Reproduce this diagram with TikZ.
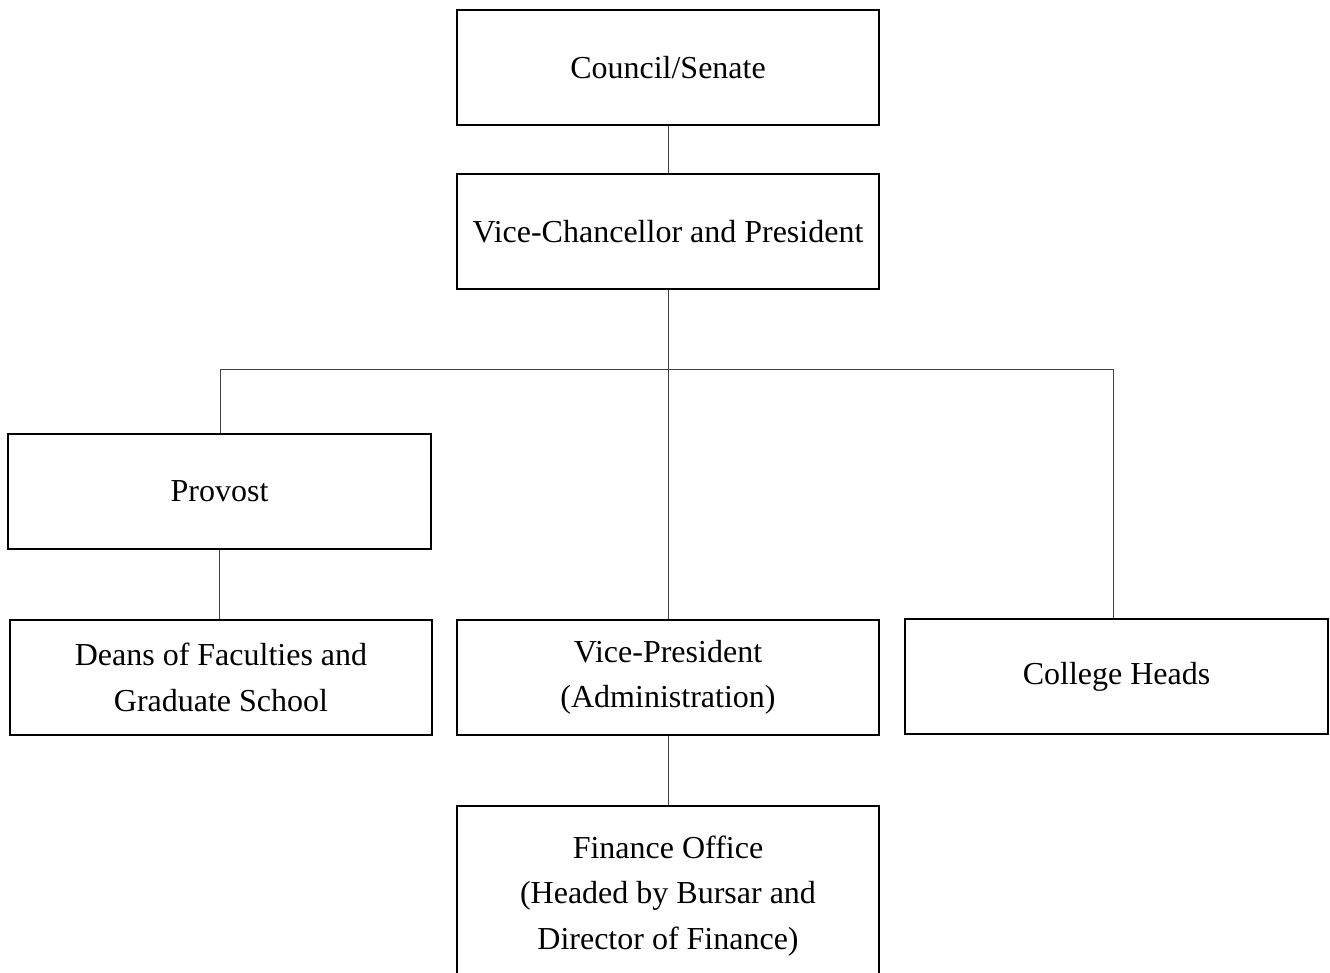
\documentclass[tikz,border=0pt]{standalone}
\usepackage{fontspec}
\setmainfont{Liberation Serif}
\tikzset{
  orgbox/.style={draw=black, line width=1.1pt, minimum width=316.5pt, minimum height=86.25pt,
    align=center, inner sep=0pt, font=\fontsize{24}{34}\selectfont},
  link/.style={draw=black!75, line width=0.75pt}
}
\begin{document}
\begin{tikzpicture}[x=0.75pt, y=-0.75pt]
  \useasboundingbox (0,0) rectangle (1330,973);
  \clip (0,0) rectangle (1330,973);
  % boxes
  \node[orgbox] (council) at (668,67.5) {Council/Senate};
  \node[orgbox] (vc) at (668,231.5) {Vice-Chancellor and President};
  \node[orgbox, minimum width=317.25pt] (provost) at (219.5,491.5) {Provost};
  \node[orgbox] (deans) at (221,677.5) {Deans of Faculties and\\ Graduate School};
  \node[orgbox] (vp) at (668,677.5) {Vice-President\\ (Administration)};
  \node[orgbox, minimum height=135pt] (finance) at (668,896) {Finance Office\\ (Headed by Bursar and\\ Director of Finance)};
  \node[orgbox, minimum width=317.25pt] (college) at (1116.5,676.5) {College Heads};
  % connectors
  \coordinate (busL) at (220,369);
  \coordinate (busR) at (1113,369);
  \draw[link] (council.south) -- (vc.north);
  \draw[link] (vc.south) -- (vp.north);
  \draw[link] (busL) -- (busR);
  \draw[link] (busL) -- (busL |- provost.north);
  \draw[link] (busR) -- (busR |- college.north);
  \draw[link] (provost.south) -- (provost.south |- deans.north);
  \draw[link] (vp.south) -- (finance.north);
\end{tikzpicture}
\end{document}
